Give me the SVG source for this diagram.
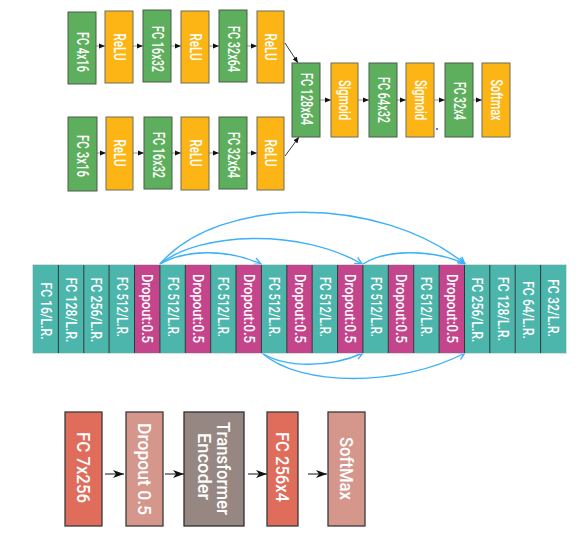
<svg xmlns="http://www.w3.org/2000/svg" width="583" height="542" viewBox="0 0 583 542">
<style>
.g{fill:#5DAF5D;stroke:#4a5a4a;stroke-width:1}
.o{fill:#FDB515;stroke:#6d6d5a;stroke-width:1}
.tl{fill:#4DB6AC}
.dp{fill:#C5458C}
.fr{fill:#E06D5B;stroke:#3a3a3a;stroke-width:1.3}
.pk{fill:#D5978C;stroke:#3a3a3a;stroke-width:1.3}
.gr{fill:#978782;stroke:#2e2e2e;stroke-width:1.3}
text{font-family:Roboto,"Liberation Sans",sans-serif;font-weight:500;fill:#fff;text-anchor:middle;dominant-baseline:central}
.t1{font-size:16px}
.t2{font-size:15px}
.t3{font-size:18px}
.ka{stroke:#999;stroke-width:1;fill:none}
.kd{stroke:#222;stroke-width:0.9;fill:none}
.kb{stroke:#3DB1F8;stroke-width:1.4;fill:none}
.kk{stroke:#111;stroke-width:1;fill:none}
.sep{stroke:#2b3838;stroke-width:1}
</style>
<defs>
<marker id="ms" markerUnits="userSpaceOnUse" markerWidth="7" markerHeight="6" refX="6" refY="3" orient="auto"><path d="M0,0.5 L6,3 L0,5.5 z" fill="#111"/></marker>
<marker id="mb" markerUnits="userSpaceOnUse" markerWidth="10" markerHeight="10" refX="8" refY="5" orient="auto"><path d="M1,1.5 L8,5 L1,8.5" fill="none" stroke="#3DB1F8" stroke-width="1.4"/></marker>
<marker id="mk" markerUnits="userSpaceOnUse" markerWidth="12" markerHeight="9" refX="11" refY="4.5" orient="auto"><path d="M0,0.5 L11,4.5 L0,8.5 L3,4.5 z" fill="#111"/></marker>
</defs>

<g id="connectors">
<line class="ka" x1="96" y1="46" x2="105" y2="46" marker-end="url(#ms)"/>
<line class="ka" x1="133" y1="46" x2="143" y2="46" marker-end="url(#ms)"/>
<line class="ka" x1="171" y1="46" x2="181" y2="46" marker-end="url(#ms)"/>
<line class="ka" x1="209" y1="46" x2="219" y2="46" marker-end="url(#ms)"/>
<line class="ka" x1="247" y1="46" x2="257" y2="46" marker-end="url(#ms)"/>
<line class="ka" x1="97" y1="153" x2="106" y2="153" marker-end="url(#ms)"/>
<line class="ka" x1="133" y1="153" x2="144" y2="153" marker-end="url(#ms)"/>
<line class="ka" x1="172" y1="153" x2="181" y2="153" marker-end="url(#ms)"/>
<line class="ka" x1="209" y1="153" x2="219" y2="153" marker-end="url(#ms)"/>
<line class="ka" x1="247" y1="153" x2="257" y2="153" marker-end="url(#ms)"/>
<line class="kd" x1="285" y1="43" x2="298" y2="63" marker-end="url(#ms)"/>
<line class="kd" x1="285" y1="156" x2="299" y2="137" marker-end="url(#ms)"/>
<line class="ka" x1="320" y1="100" x2="331" y2="100" marker-end="url(#ms)"/>
<line class="ka" x1="358" y1="100" x2="369" y2="100" marker-end="url(#ms)"/>
<line class="ka" x1="397" y1="100" x2="406" y2="100" marker-end="url(#ms)"/>
<line class="ka" x1="434" y1="100" x2="445" y2="100" marker-end="url(#ms)"/>
<line class="ka" x1="473" y1="100" x2="482" y2="100" marker-end="url(#ms)"/>
<path class="kb" d="M160,264 C185,250 225,248 261,264" marker-end="url(#mb)"/>
<path class="kb" d="M160,264 C200,232 300,228 362,264" marker-end="url(#mb)"/>
<path class="kb" d="M160,264 C220,195 380,195 465,264" marker-end="url(#mb)"/>
<path class="kb" d="M363,264 C385,250 430,248 465,264" marker-end="url(#mb)"/>
<path class="kb" d="M262,353 C285,368 330,368 363,353" marker-end="url(#mb)"/>
<path class="kb" d="M262,353 C300,387 400,387 465,353" marker-end="url(#mb)"/>
<line class="kk" x1="105" y1="474" x2="124" y2="474" marker-end="url(#mk)"/>
<line class="kk" x1="165" y1="474" x2="184" y2="474" marker-end="url(#mk)"/>
<line class="kk" x1="248" y1="474" x2="267" y2="474" marker-end="url(#mk)"/>
<line class="kk" x1="308" y1="474" x2="327" y2="474" marker-end="url(#mk)"/>
</g>

<g id="top-row1">
<g id="n-fc4x16"><rect class="g" x="68" y="12" width="28" height="72"/><text class="t1" transform="translate(82,52) rotate(90)" textLength="40" lengthAdjust="spacingAndGlyphs">FC 4x16</text></g>
<g id="n-relu1"><rect class="o" x="105" y="11" width="28" height="72"/><text class="t1" transform="translate(119,47) rotate(90)" textLength="27" lengthAdjust="spacingAndGlyphs">ReLU</text></g>
<g id="n-fc16x32a"><rect class="g" x="143" y="10" width="28" height="72"/><text class="t1" transform="translate(157,49) rotate(90)" textLength="46" lengthAdjust="spacingAndGlyphs">FC 16x32</text></g>
<g id="n-relu2"><rect class="o" x="181" y="11" width="28" height="72"/><text class="t1" transform="translate(195,47) rotate(90)" textLength="27" lengthAdjust="spacingAndGlyphs">ReLU</text></g>
<g id="n-fc32x64a"><rect class="g" x="219" y="10" width="28" height="72"/><text class="t1" transform="translate(233,49) rotate(90)" textLength="46" lengthAdjust="spacingAndGlyphs">FC 32x64</text></g>
<g id="n-relu3"><rect class="o" x="257" y="11" width="27" height="72"/><text class="t1" transform="translate(270.5,47) rotate(90)" textLength="27" lengthAdjust="spacingAndGlyphs">ReLU</text></g>
</g>
<g id="top-row2">
<g id="n-fc3x16"><rect class="g" x="68" y="117" width="29" height="74"/><text class="t1" transform="translate(82.5,156) rotate(90)" textLength="42" lengthAdjust="spacingAndGlyphs">FC 3x16</text></g>
<g id="n-relu4"><rect class="o" x="106" y="117" width="27" height="73"/><text class="t1" transform="translate(119.5,153) rotate(90)" textLength="27" lengthAdjust="spacingAndGlyphs">ReLU</text></g>
<g id="n-fc16x32b"><rect class="g" x="144" y="117" width="28" height="72"/><text class="t1" transform="translate(158,155) rotate(90)" textLength="46" lengthAdjust="spacingAndGlyphs">FC 16x32</text></g>
<g id="n-relu5"><rect class="o" x="181" y="117" width="28" height="73"/><text class="t1" transform="translate(195,153) rotate(90)" textLength="27" lengthAdjust="spacingAndGlyphs">ReLU</text></g>
<g id="n-fc32x64b"><rect class="g" x="219" y="117" width="28" height="72"/><text class="t1" transform="translate(233,155) rotate(90)" textLength="46" lengthAdjust="spacingAndGlyphs">FC 32x64</text></g>
<g id="n-relu6"><rect class="o" x="257" y="117" width="27" height="73"/><text class="t1" transform="translate(270.5,153) rotate(90)" textLength="27" lengthAdjust="spacingAndGlyphs">ReLU</text></g>
</g>
<g id="top-merge">
<g id="n-fc128x64"><rect class="g" x="292" y="63" width="28" height="74"/><text class="t1" transform="translate(306,99) rotate(90)" textLength="52" lengthAdjust="spacingAndGlyphs">FC 128x64</text></g>
<g id="n-sigmoid1"><rect class="o" x="331" y="63" width="27" height="74"/><text class="t1" transform="translate(344.5,100) rotate(90)" textLength="40" lengthAdjust="spacingAndGlyphs">Sigmoid</text></g>
<g id="n-fc64x32"><rect class="g" x="369" y="63" width="28" height="74"/><text class="t1" transform="translate(383,100) rotate(90)" textLength="46" lengthAdjust="spacingAndGlyphs">FC 64x32</text></g>
<g id="n-sigmoid2"><rect class="o" x="406" y="63" width="28" height="74"/><text class="t1" transform="translate(420,100) rotate(90)" textLength="40" lengthAdjust="spacingAndGlyphs">Sigmoid</text></g>
<g id="n-fc32x4"><rect class="g" x="445" y="63" width="28" height="74"/><text class="t1" transform="translate(459,101) rotate(90)" textLength="38" lengthAdjust="spacingAndGlyphs">FC 32x4</text></g>
<g id="n-softmax1"><rect class="o" x="482" y="63" width="28" height="74"/><text class="t1" transform="translate(496,100) rotate(90)" textLength="41" lengthAdjust="spacingAndGlyphs">Softmax</text></g>
<circle cx="437" cy="129" r="0.9" fill="#2233ee"/>
</g>

<g id="middle-strip">
<rect x="33" y="265" width="533" height="88" fill="none" stroke="#c9d6d6" stroke-width="1.5"/>
<g id="m0"><rect class="tl" x="33" y="265" width="25.4" height="88"/><text class="t2" transform="translate(45.7,311) rotate(90)" textLength="57" lengthAdjust="spacingAndGlyphs">FC 16/L.R.</text></g>
<g id="m1"><rect class="tl" x="58.4" y="265" width="25.4" height="88"/><text class="t2" transform="translate(71.1,310) rotate(90)" textLength="65" lengthAdjust="spacingAndGlyphs">FC 128/L.R.</text></g>
<g id="m2"><rect class="tl" x="83.8" y="265" width="25.4" height="88"/><text class="t2" transform="translate(96.4,310) rotate(90)" textLength="65" lengthAdjust="spacingAndGlyphs">FC 256/L.R.</text></g>
<g id="m3"><rect class="tl" x="109.1" y="265" width="25.4" height="88"/><text class="t2" transform="translate(121.8,307) rotate(90)" textLength="60" lengthAdjust="spacingAndGlyphs">FC 512/L.R.</text></g>
<g id="m4"><rect class="dp" x="134.5" y="265" width="25.4" height="88"/><text class="t2" transform="translate(147.2,308.5) rotate(90)" textLength="69" lengthAdjust="spacingAndGlyphs">Dropout:0.5</text></g>
<g id="m5"><rect class="tl" x="159.9" y="265" width="25.4" height="88"/><text class="t2" transform="translate(172.6,307) rotate(90)" textLength="60" lengthAdjust="spacingAndGlyphs">FC 512/L.R.</text></g>
<g id="m6"><rect class="dp" x="185.3" y="265" width="25.4" height="88"/><text class="t2" transform="translate(198,308.5) rotate(90)" textLength="69" lengthAdjust="spacingAndGlyphs">Dropout:0.5</text></g>
<g id="m7"><rect class="tl" x="210.7" y="265" width="25.4" height="88"/><text class="t2" transform="translate(223.3,307) rotate(90)" textLength="60" lengthAdjust="spacingAndGlyphs">FC 512/L.R.</text></g>
<g id="m8"><rect class="dp" x="236" y="265" width="25.4" height="88"/><text class="t2" transform="translate(248.7,308.5) rotate(90)" textLength="69" lengthAdjust="spacingAndGlyphs">Dropout:0.5</text></g>
<g id="m9"><rect class="tl" x="261.4" y="265" width="25.4" height="88"/><text class="t2" transform="translate(274.1,307) rotate(90)" textLength="60" lengthAdjust="spacingAndGlyphs">FC 512/L.R.</text></g>
<g id="m10"><rect class="dp" x="286.8" y="265" width="25.4" height="88"/><text class="t2" transform="translate(299.5,308.5) rotate(90)" textLength="69" lengthAdjust="spacingAndGlyphs">Dropout:0.5</text></g>
<g id="m11"><rect class="tl" x="312.2" y="265" width="25.4" height="88"/><text class="t2" transform="translate(324.9,307) rotate(90)" textLength="60" lengthAdjust="spacingAndGlyphs">FC 512/L.R.</text></g>
<g id="m12"><rect class="dp" x="337.6" y="265" width="25.4" height="88"/><text class="t2" transform="translate(350.2,308.5) rotate(90)" textLength="69" lengthAdjust="spacingAndGlyphs">Dropout:0.5</text></g>
<g id="m13"><rect class="tl" x="362.9" y="265" width="25.4" height="88"/><text class="t2" transform="translate(375.6,307) rotate(90)" textLength="60" lengthAdjust="spacingAndGlyphs">FC 512/L.R.</text></g>
<g id="m14"><rect class="dp" x="388.3" y="265" width="25.4" height="88"/><text class="t2" transform="translate(401,308.5) rotate(90)" textLength="69" lengthAdjust="spacingAndGlyphs">Dropout:0.5</text></g>
<g id="m15"><rect class="tl" x="413.7" y="265" width="25.4" height="88"/><text class="t2" transform="translate(426.4,307) rotate(90)" textLength="60" lengthAdjust="spacingAndGlyphs">FC 512/L.R.</text></g>
<g id="m16"><rect class="dp" x="439.1" y="265" width="25.4" height="88"/><text class="t2" transform="translate(451.8,308.5) rotate(90)" textLength="69" lengthAdjust="spacingAndGlyphs">Dropout:0.5</text></g>
<g id="m17"><rect class="tl" x="464.5" y="265" width="25.4" height="88"/><text class="t2" transform="translate(477.2,310) rotate(90)" textLength="65" lengthAdjust="spacingAndGlyphs">FC 256/L.R.</text></g>
<g id="m18"><rect class="tl" x="489.8" y="265" width="25.4" height="88"/><text class="t2" transform="translate(502.5,309) rotate(90)" textLength="64" lengthAdjust="spacingAndGlyphs">FC 128/L.R.</text></g>
<g id="m19"><rect class="tl" x="515.2" y="265" width="25.4" height="88"/><text class="t2" transform="translate(527.9,310) rotate(90)" textLength="58" lengthAdjust="spacingAndGlyphs">FC 64/L.R.</text></g>
<g id="m20"><rect class="tl" x="540.6" y="265" width="25.4" height="88"/><text class="t2" transform="translate(553.3,308) rotate(90)" textLength="58" lengthAdjust="spacingAndGlyphs">FC 32/L.R.</text></g>
<path class="sep" d="M58.4,265V353M83.8,265V353M109.1,265V353M134.5,265V353M159.9,265V353M185.3,265V353M210.7,265V353M236,265V353M261.4,265V353M286.8,265V353M312.2,265V353M337.6,265V353M362.9,265V353M388.3,265V353M413.7,265V353M439.1,265V353M464.5,265V353M489.8,265V353M515.2,265V353M540.6,265V353"/>
</g>

<g id="bottom-row">
<g id="b-fc7x256"><rect class="fr" x="65" y="412" width="37" height="114"/><text class="t3" transform="translate(83.5,467.5) rotate(90)" textLength="71" lengthAdjust="spacingAndGlyphs">FC 7x256</text></g>
<g id="b-dropout"><rect class="pk" x="126" y="412" width="37" height="114"/><text class="t3" transform="translate(144.5,469) rotate(90)" textLength="92" lengthAdjust="spacingAndGlyphs">Dropout 0.5</text></g>
<g id="b-transformer"><rect class="gr" x="184" y="412" width="60" height="114"/><text class="t3" transform="translate(223.5,468.5) rotate(90)" textLength="93" lengthAdjust="spacingAndGlyphs">Transformer</text><text class="t3" transform="translate(204.5,466.5) rotate(90)" textLength="67" lengthAdjust="spacingAndGlyphs">Encoder</text></g>
<g id="b-fc256x4"><rect class="fr" x="267" y="412" width="31" height="114"/><text class="t3" transform="translate(282.5,467) rotate(90)" textLength="70" lengthAdjust="spacingAndGlyphs">FC 256x4</text></g>
<g id="b-softmax"><rect class="pk" x="328" y="412" width="37" height="114"/><text class="t3" transform="translate(346.5,468.5) rotate(90)" textLength="63" lengthAdjust="spacingAndGlyphs">SoftMax</text></g>
</g>
</svg>
